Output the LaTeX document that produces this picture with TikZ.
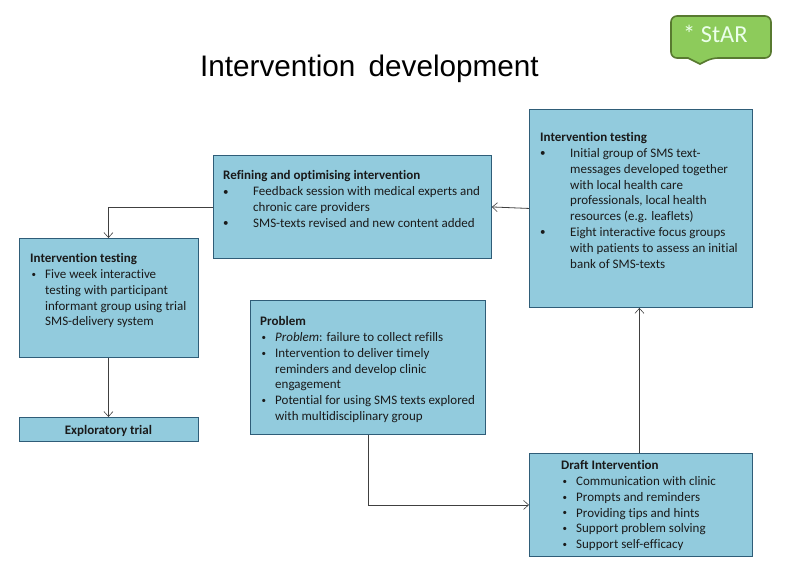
\documentclass[tikz,border=0pt]{standalone}
\usepackage{fontspec}
\usepackage{array}
\setmainfont[Ligatures=NoCommon]{Carlito}
\newfontfamily\titlefont{Liberation Sans}
\usetikzlibrary{arrows.meta}
\definecolor{boxfill}{HTML}{92CBDD}
\definecolor{boxline}{HTML}{2F5D78}
\definecolor{callfill}{HTML}{8DCB5B}
\definecolor{callline}{HTML}{587A30}
\definecolor{txt}{HTML}{1A1A1A}
\newcommand{\hd}[1]{\multicolumn{2}{@{}l@{}}{\bfseries #1}}
\newcommand{\bl}{\raisebox{0.6pt}{\fontsize{11pt}{11pt}\selectfont\textbullet}}
\newcommand{\bs}{\raisebox{1.2pt}{\fontsize{9pt}{9pt}\selectfont\hspace{1.5pt}\textbullet}}
\newenvironment{boxlist}[1]{\renewcommand{\arraystretch}{1}\setlength{\extrarowheight}{0pt}\fontsize{13pt}{15.8pt}\selectfont\setlength{\baselineskip}{15.8pt}\begin{tabular}{@{}p{#1}@{}l@{}}}{\end{tabular}}
\tikzset{
  box/.style={draw=boxline,fill=boxfill,line width=0.9pt,anchor=north west,inner sep=0pt},
  boxtext/.style={anchor=north west,inner sep=0pt,text=txt},
  conn/.style={draw=black!75,line width=0.8pt,-{Straight Barb[length=5pt,width=9pt,line width=0.6pt]}}
}
\begin{document}
\begin{tikzpicture}[x=1pt,y=-1pt]
\useasboundingbox (0,0) rectangle (785,588);
% title
\node[anchor=base west,inner sep=0pt,font=\titlefont\fontsize{29.7pt}{32pt}\selectfont,text=black] (title) at (200,77) {Intervention\hspace{5pt} development};
% callout
\draw[fill=callfill,draw=callline,line width=1.6pt,rounded corners=6pt]
  (671,16) -- (771,16) -- (771,58) -- (712,58) [sharp corners] -- (700,64) -- (688,58) [rounded corners=6pt] -- (671,58) -- cycle;
\node[anchor=base west,inner sep=0pt,text=white!92!green,font=\fontsize{24.4pt}{26pt}\selectfont] (star) at (683,43) {* StAR};
% boxes
\node[box,minimum width=278pt,minimum height=103pt] (refine) at (213,155) {};
\node[box,minimum width=223pt,minimum height=198pt] (testR) at (529,109) {};
\node[box,minimum width=179pt,minimum height=119pt] (testL) at (19,238) {};
\node[box,minimum width=179pt,minimum height=24pt,font=\fontsize{13pt}{15pt}\selectfont\bfseries,text=txt,anchor=north west] (explor) at (19,417) {\raisebox{-5pt}[0pt][0pt]{\hspace{-1pt}Exploratory trial}};
\node[box,minimum width=235pt,minimum height=134pt] (problem) at (250,300) {};
\node[box,minimum width=223pt,minimum height=103pt] (draft) at (529,453) {};
% texts
\node[boxtext] (refineT) at (223,168.6) {\begin{boxlist}{30pt}\hd{Refining and optimising intervention}\\
\bl & Feedback session with medical experts and\\
 & chronic care providers\\
\bl & SMS-texts revised and new content added
\end{boxlist}};
\node[boxtext] (testRT) at (540,130.4) {\begin{boxlist}{30pt}\hd{Intervention testing}\\
\bl & Initial group of SMS text-\\
 & messages developed together\\
 & with local health care\\
 & professionals, local health\\
 & resources (e.g. leaflets)\\
\bl & Eight interactive focus groups\\
 & with patients to assess an initial\\
 & bank of SMS-texts
\end{boxlist}};
\node[boxtext] (testLT) at (30,251.4) {\begin{boxlist}{15pt}\hd{Intervention testing}\\
\bs & Five week interactive\\
 & testing with participant\\
 & informant group using trial\\
 & SMS-delivery system
\end{boxlist}};
\node[boxtext] (problemT) at (260,314.4) {\begin{boxlist}{15pt}\hd{Problem}\\
\bs & \textit{Problem}: failure to collect refills\\
\bs & Intervention to deliver timely\\
 & reminders and develop clinic\\
 & engagement\\
\bs & Potential for using SMS texts explored\\
 & with multidisciplinary group
\end{boxlist}};
\node[boxtext] (draftT) at (561,458.4) {\begin{boxlist}{15pt}\hd{Draft Intervention}\\
\bs & Communication with clinic\\
\bs & Prompts and reminders\\
\bs & Providing tips and hints\\
\bs & Support problem solving\\
\bs & Support self-efficacy
\end{boxlist}};
% connectors
\draw[conn] (testR.west) -- (refine.east);
\draw[conn] (refine.west) -| ([xshift=-0.5pt]testL.north);
\draw[conn] ([xshift=-0.5pt]testL.south) -- ([xshift=-0.5pt]explor.north);
\draw[conn] (problem.south) |- (draft.west);
\draw[conn] ([xshift=-1.5pt]draft.north) -- ([xshift=-1.5pt]testR.south);
\end{tikzpicture}
\end{document}
